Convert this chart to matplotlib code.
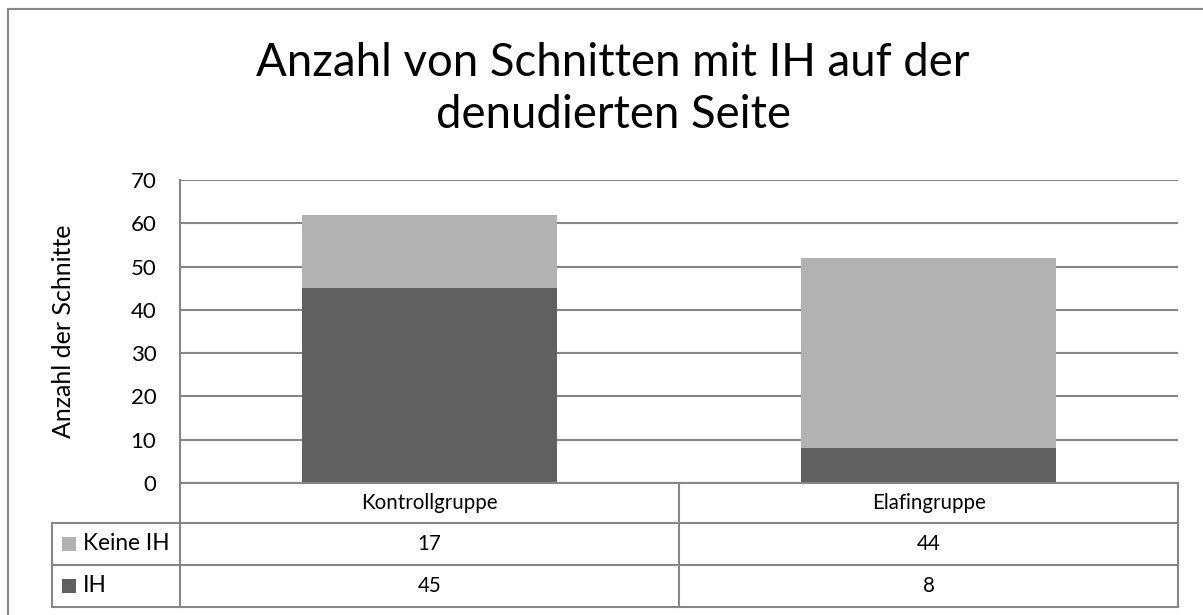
import matplotlib
matplotlib.use("Agg")
import matplotlib.pyplot as plt
from matplotlib.patches import Rectangle

plt.rcParams['font.family'] = ['Lato', 'DejaVu Sans']

categories = ["Kontrollgruppe", "Elafingruppe"]
series_names = ["Keine IH", "IH"]
keine_ih = [17, 44]
ih = [45, 8]
y_ticks = [0, 10, 20, 30, 40, 50, 60, 70]
title = "Anzahl von Schnitten mit IH auf der\ndenudierten Seite"
y_label = "Anzahl der Schnitte"

col_light = "#b2b2b2"
col_dark = "#606060"
line_col = "#868686"

W, H = 1203, 615
fig = plt.figure(figsize=(W / 100, H / 100), dpi=100)

# outer chart border (right and bottom edges run off the canvas)
fig.patches.append(Rectangle((8 / W, -0.01), 1.0, (H - 9) / H + 0.01, transform=fig.transFigure,
                             fill=False, edgecolor=line_col, linewidth=1.5))

# plot area (pixel layout: x 180..1178, y 180..483)
ax = fig.add_axes([180 / W, 1 - 483 / H, (1178 - 180) / W, (483 - 180) / H])
x = list(range(len(categories)))
ax.bar(x, ih, width=0.513, color=col_dark, zorder=3)
ax.bar(x, keine_ih, bottom=ih, width=0.513, color=col_light, zorder=3)
ax.set_xlim(-0.5, len(categories) - 0.5)
ax.set_ylim(0, 70)
ax.set_yticks(y_ticks)
ax.set_xticks([])
ax.tick_params(axis='y', length=0, labelsize=16, pad=17)
ax.yaxis.grid(True, color=line_col, linewidth=1.5, zorder=0)
for s in ["top", "right", "bottom"]:
    ax.spines[s].set_visible(False)
ax.spines["left"].set_color(line_col)
ax.spines["left"].set_linewidth(1.5)
ax.set_ylabel(y_label, fontsize=18, labelpad=40)

fig.text(613 / W, 1 - 89 / H, title, ha="center", va="center", fontsize=32.8, linespacing=1.3)

# data table below the plot (pixel coordinates)
tax = fig.add_axes([0, 0, 1, 1], facecolor="none")
tax.set_xlim(0, W)
tax.set_ylim(H, 0)
tax.axis("off")
lw = 1.5
fs = 14.8
left_leg, left_plot, right_plot = 52, 180, 1178
row_y = [483, 523, 565, 607]
col_w = (right_plot - left_plot) / len(categories)
col_x = [left_plot + i * col_w for i in range(len(categories) + 1)]

# horizontal lines
tax.plot([left_plot, right_plot], [row_y[0]] * 2, color=line_col, lw=lw)
for yy in row_y[1:]:
    tax.plot([left_leg, right_plot], [yy] * 2, color=line_col, lw=lw)
# vertical lines
tax.plot([left_leg, left_leg], [row_y[1], row_y[3]], color=line_col, lw=lw)
for xx in col_x:
    tax.plot([xx, xx], [row_y[0], row_y[3]], color=line_col, lw=lw)

for i, cat in enumerate(categories):
    cx = (col_x[i] + col_x[i + 1]) / 2
    tax.text(cx, (row_y[0] + row_y[1]) / 2, cat, ha="center", va="center", fontsize=fs)
    tax.text(cx, (row_y[1] + row_y[2]) / 2, str(keine_ih[i]), ha="center", va="center", fontsize=fs)
    tax.text(cx, (row_y[2] + row_y[3]) / 2, str(ih[i]), ha="center", va="center", fontsize=fs)

for r, (name, c) in enumerate(zip(series_names, [col_light, col_dark])):
    cy = (row_y[r + 1] + row_y[r + 2]) / 2
    tax.add_patch(Rectangle((62, cy - 7), 14, 14, facecolor=c, edgecolor="none"))
    tax.text(83, cy, name, ha="left", va="center", fontsize=fs + 1.5)

fig.savefig("out.png", dpi=100)
